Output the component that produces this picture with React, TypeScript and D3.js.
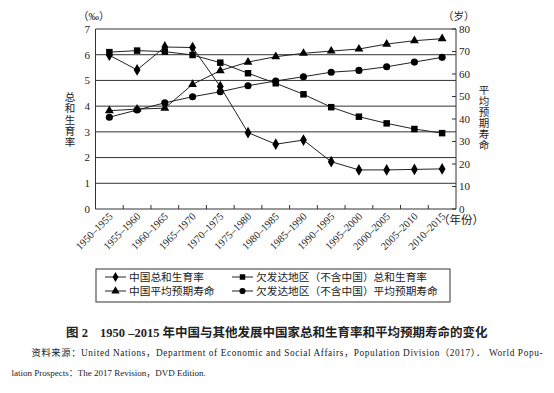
import React, { useRef, useEffect } from "react";
import * as d3 from "d3";

const periods = [
	"1950–1955", "1955–1960", "1960–1965", "1965–1970", "1970–1975",
	"1975–1980", "1980–1985", "1985–1990", "1990–1995", "1995–2000",
	"2000–2005", "2005–2010", "2010–2015",
];
// total fertility rate (left axis)
const chinaTfr = [5.98, 5.41, 6.3, 6.28, 4.76, 2.97, 2.52, 2.68, 1.84, 1.52, 1.52, 1.54, 1.56];
const ldcTfr = [6.1, 6.16, 6.12, 5.99, 5.69, 5.28, 4.89, 4.46, 3.96, 3.59, 3.33, 3.11, 2.95];
// life expectancy (right axis)
const chinaLe = [43.7, 44.4, 44.8, 55.4, 61.5, 65.3, 67.7, 69.2, 70.2, 71.1, 73.3, 74.8, 75.7];
const ldcLe = [40.8, 44.0, 47.2, 49.9, 52.1, 54.8, 56.9, 58.8, 60.8, 61.6, 63.2, 65.3, 67.4];

const leftTicks = [0, 1, 2, 3, 4, 5, 6, 7];
const rightTicks = [0, 10, 20, 30, 40, 50, 60, 70, 80];

const legendItems = [
	{ label: "中国总和生育率", symbol: d3.symbolDiamond },
	{ label: "欠发达地区（不含中国）总和生育率", symbol: d3.symbolSquare },
	{ label: "中国平均预期寿命", symbol: d3.symbolTriangle },
	{ label: "欠发达地区（不含中国）平均预期寿命", symbol: d3.symbolCircle },
];

const FONT = "'Liberation Serif', 'Noto Sans CJK SC', serif";
const INK = "#222";

const App = () => {
	const svgRef = useRef<SVGSVGElement | null>(null);

	useEffect(() => {
		if (!svgRef.current) return;
		const svg = d3.select(svgRef.current);
		svg.selectAll("*").remove();

		const left = 95.5;
		const right = 456;
		const top = 29;
		const bottom = 209;

		const x = d3.scaleBand().domain(periods).range([left, right]).padding(0);
		const yL = d3.scaleLinear().domain([0, 7]).range([bottom, top]);
		const yR = d3.scaleLinear().domain([0, 80]).range([bottom, top]);

		const g = svg.append("g").attr("font-family", FONT).attr("fill", INK);

		// gridlines from the left axis
		g.selectAll("line.grid")
			.data(leftTicks.slice(1))
			.join("line")
			.attr("x1", left)
			.attr("x2", right)
			.attr("y1", (d) => yL(d))
			.attr("y2", (d) => yL(d))
			.attr("stroke", "#333")
			.attr("stroke-width", 1);

		// axes lines
		g.append("line").attr("x1", left).attr("x2", left).attr("y1", top).attr("y2", bottom).attr("stroke", "#333");
		g.append("line").attr("x1", right).attr("x2", right).attr("y1", top).attr("y2", bottom).attr("stroke", "#333");
		g.append("line").attr("x1", left).attr("x2", right).attr("y1", bottom).attr("y2", bottom).attr("stroke", "#333");

		// x ticks at band boundaries, pointing inward
		g.selectAll("line.xt")
			.data(periods.slice(1))
			.join("line")
			.attr("x1", (d) => x(d)!)
			.attr("x2", (d) => x(d)!)
			.attr("y1", bottom)
			.attr("y2", bottom - 4)
			.attr("stroke", "#333");

		// right ticks pointing inward
		g.selectAll("line.rt")
			.data(rightTicks)
			.join("line")
			.attr("x1", right)
			.attr("x2", right - 4)
			.attr("y1", (d) => yR(d))
			.attr("y2", (d) => yR(d))
			.attr("stroke", "#333");

		// left tick labels
		g.selectAll("text.lt")
			.data(leftTicks)
			.join("text")
			.attr("x", 90)
			.attr("y", (d) => yL(d))
			.attr("dy", "0.35em")
			.attr("text-anchor", "end")
			.attr("font-size", 11)
			.text((d) => d);

		// right tick labels
		g.selectAll("text.rtl")
			.data(rightTicks)
			.join("text")
			.attr("x", 459)
			.attr("y", (d) => yR(d))
			.attr("dy", "0.35em")
			.attr("font-size", 11)
			.text((d) => d);

		// x labels rotated
		g.selectAll("text.xl")
			.data(periods)
			.join("text")
			.attr("text-anchor", "end")
			.attr("font-size", 10.5)
			.attr("transform", (d) => `translate(${x(d)! + x.bandwidth() / 2 + 4},${bottom + 8}) rotate(-45)`)
			.text((d) => d);

		g.append("text").attr("x", 438).attr("y", 224).attr("font-size", 11.5).text("（年份）");
		g.append("text").attr("x", 78).attr("y", 20).attr("font-size", 10.5).text("（‰）");
		g.append("text").attr("x", 443).attr("y", 20).attr("font-size", 10.5).text("（岁）");

		// vertical axis titles
		const vTitle = (s: string, cx: number, y0: number, step: number) => {
			g.selectAll(null)
				.data(Array.from(s))
				.join("text")
				.attr("x", cx)
				.attr("y", (_, i) => y0 + i * step)
				.attr("dy", "0.35em")
				.attr("text-anchor", "middle")
				.attr("font-size", 10.5)
				.text((d) => d);
		};
		vTitle("总和生育率", 70, 97.5, 11.3);
		vTitle("平均预期寿命", 484, 90, 11);

		// series
		const cx = (i: number) => x(periods[i])! + x.bandwidth() / 2;
		const series = [
			{ values: chinaTfr, y: yL, symbol: d3.symbolDiamond, size: 40 },
			{ values: ldcTfr, y: yL, symbol: d3.symbolSquare, size: 42 },
			{ values: chinaLe, y: yR, symbol: d3.symbolTriangle, size: 34 },
			{ values: ldcLe, y: yR, symbol: d3.symbolCircle, size: 40 },
		];
		series.forEach((s) => {
			const line = d3
				.line<number>()
				.x((_, i) => cx(i))
				.y((d) => s.y(d));
			g.append("path")
				.attr("d", line(s.values))
				.attr("fill", "none")
				.attr("stroke", INK)
				.attr("stroke-width", 1);
			g.selectAll(null)
				.data(s.values)
				.join("path")
				.attr("transform", (d, i) => `translate(${cx(i)},${s.y(d)})`)
				.attr("d", d3.symbol().type(s.symbol).size(s.size)()!)
				.attr("fill", "#000");
		});

		// legend
		const lg = g.append("g");
		lg.append("rect")
			.attr("x", 96)
			.attr("y", 269)
			.attr("width", 354)
			.attr("height", 33)
			.attr("fill", "none")
			.attr("stroke", "#555")
			.attr("stroke-width", 1.2);
		const colX = [105, 232];
		const rowY = [277, 291];
		legendItems.forEach((item, i) => {
			const lx = colX[i % 2];
			const ly = rowY[Math.floor(i / 2)];
			lg.append("line")
				.attr("x1", lx)
				.attr("x2", lx + 21)
				.attr("y1", ly)
				.attr("y2", ly)
				.attr("stroke", INK);
			lg.append("path")
				.attr("transform", `translate(${lx + 10.5},${ly})`)
				.attr("d", d3.symbol().type(item.symbol).size(30)()!)
				.attr("fill", "#000");
			lg.append("text")
				.attr("x", lx + 24)
				.attr("y", ly)
				.attr("dy", "0.36em")
				.attr("font-size", 10.7)
				.text(item.label);
		});

		// caption
		const cap = g.append("text").attr("y", 333).attr("dy", "0.35em").attr("font-size", 12.5).attr("font-weight", "bold");
		cap.append("tspan").attr("x", 66).text("图 2");
		cap.append("tspan").attr("x", 100).text("1950 –2015 年中国与其他发展中国家总和生育率和平均预期寿命的变化");

		g.append("text")
			.attr("x", 31.5)
			.attr("y", 353)
			.attr("dy", "0.35em")
			.attr("font-size", 9.3)
			.attr("textLength", 511)
			.attr("lengthAdjust", "spacing")
			.text("资料来源：United Nations，Department of Economic and Social Affairs，Population Division（2017）． World Popu-");
		g.append("text")
			.attr("x", 11.5)
			.attr("y", 373)
			.attr("dy", "0.35em")
			.attr("font-size", 9)
			.text("lation Prospects：The 2017 Revision，DVD Edition.");
	}, []);

	return (
		<svg
			ref={svgRef}
			width={554}
			height={393}
			style={{ position: "absolute", left: 0, top: 0, background: "#fff" }}
		></svg>
	);
};

export default App;
